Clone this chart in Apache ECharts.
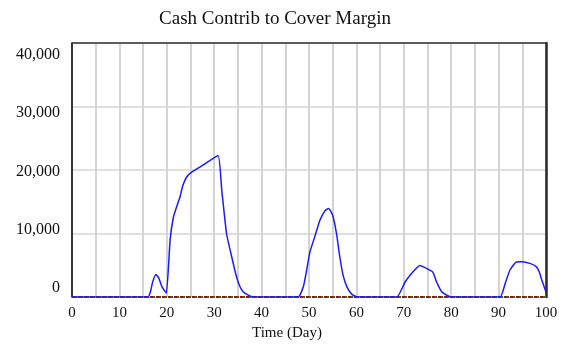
<!DOCTYPE html>
<html>
<head>
<meta charset="utf-8">
<script src="https://cdn.jsdelivr.net/npm/echarts@6/dist/echarts.min.js"></script>
<style>
  html, body { margin: 0; padding: 0; background: #fff; }
  #chart { width: 563px; height: 352px; }
</style>
</head>
<body>
<div id="chart"></div>
<script>
// Cash contribution run (days / value pairs)
const days = [0, 16, 16.5, 17, 17.7, 18.3, 19, 19.9, 20.7, 21.4, 22.2, 22.8, 23.4, 24.2, 25.3, 27.7, 30.8,
  31.6, 32.6, 33.7, 34.7, 35.4, 36.1, 37.2, 38, 39, 47.7, 48.8, 49.5, 50.2, 51.3, 52.3, 53.4, 54.1,
  54.6, 55.1, 55.8, 56.5, 57.2, 58, 59, 60, 61, 68.5, 70.3, 72, 73.4, 74.8, 76.1, 76.9, 78, 79.4,
  80, 90.3, 91.4, 92.4, 93.7, 94.9, 96.6, 98, 98.6, 99.1, 100];
const cash = [0, 0, 700, 2300, 3550, 3000, 1600, 600, 9000, 12600, 14500, 15800, 17600, 18900, 19700, 20800, 22300,
  16800, 10000, 6300, 3200, 1700, 830, 300, 50, 0, 0, 1600, 4200, 7100, 9700, 12100, 13600, 13950,
  13500, 12600, 10000, 6300, 3400, 1600, 450, 50, 0, 0, 2400, 4000, 4950, 4500, 3950, 2400, 830, 160,
  0, 0, 2150, 4250, 5500, 5550, 5300, 4750, 3900, 2700, 800];
const flatDays = [0, 100];
const flatVals = [0, 0];
const yTicks = [0, 10000, 20000, 30000, 40000];

const pairs = (xs, ys) => xs.map((x, i) => [x, ys[i]]);
const fmt = v => v.toLocaleString('en-US');

const frameAxis = (pos, color, width) => ({
  type: 'value', position: pos, min: 0, max: pos === 'top' ? 100 : 40000,
  axisLine: { show: true, onZero: false, lineStyle: { color, width } },
  axisTick: { show: false }, axisLabel: { show: false }, splitLine: { show: false }
});

const chart = echarts.init(document.getElementById('chart'));
chart.setOption({
  animation: false,
  textStyle: { fontFamily: 'Liberation Serif, Times New Roman, serif', color: '#111' },
  title: {
    text: 'Cash Contrib to Cover Margin',
    left: 270, top: 5, textAlign: 'center',
    textStyle: { fontFamily: 'Liberation Serif', fontWeight: 'normal', fontSize: 19, color: '#111' }
  },
  grid: { left: 72, right: 17, top: 43, bottom: 55 },
  xAxis: [{
    type: 'value', min: 0, max: 100, interval: 5,
    name: 'Time (Day)', nameLocation: 'middle', nameGap: 29,
    nameTextStyle: { fontFamily: 'Liberation Serif', fontSize: 15, color: '#111', padding: [0, 44, 0, 0] },
    axisLine: { show: false },
    axisTick: { show: false },
    axisLabel: { interval: 1, fontSize: 15, color: '#111', margin: 9,
      formatter: v => (v % 10 === 0 ? String(v) : '') },
    splitLine: { show: true, lineStyle: { color: '#d4d4d4', width: 2 } }
  }, frameAxis('top', '#333', 1.5)],
  yAxis: [{
    type: 'value', min: 0, max: 40000, interval: 10000,
    axisLine: { show: true, onZero: false, lineStyle: { color: '#000', width: 1.5 } },
    axisTick: { show: false },
    axisLabel: { show: false },
    splitLine: { show: true, lineStyle: { color: '#d4d4d4', width: 1.5 } }
  }, {
    // label-only scale: labels are spread slightly tighter than the grid
    type: 'value', position: 'left', min: -1545, max: 42060,
    axisLine: { show: false }, axisTick: { show: false }, splitLine: { show: false },
    axisLabel: { customValues: yTicks, formatter: fmt, fontSize: 16, color: '#111', margin: 12 }
  }, frameAxis('right', '#2a2a2a', 2.5)],
  series: [
    { type: 'line', data: pairs(flatDays, flatVals), showSymbol: false, z: 1,
      lineStyle: { color: '#8b1a1a', width: 2, type: [3, 3] } },
    { type: 'line', data: pairs(flatDays, flatVals), showSymbol: false, z: 1,
      lineStyle: { color: '#2e6b1f', width: 2, type: [2, 4], dashOffset: 3 } },
    { type: 'line', data: pairs(days, cash), showSymbol: false, smooth: 0.15, z: 3,
      lineStyle: { color: '#1a1aff', width: 1.5 } }
  ]
});
</script>
</body>
</html>
